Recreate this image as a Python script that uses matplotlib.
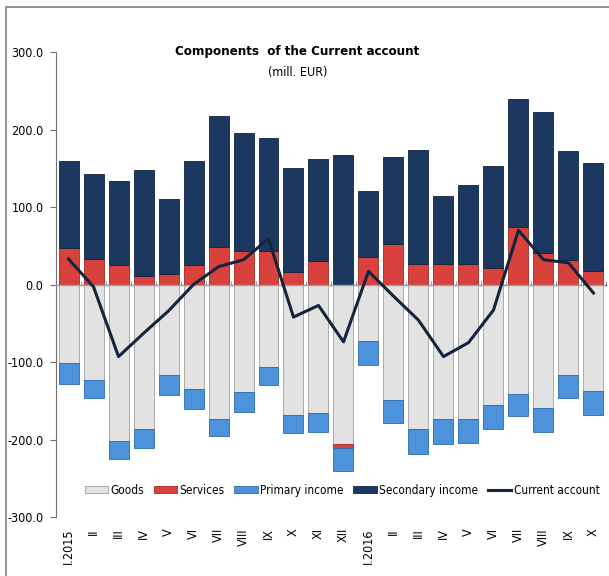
import numpy as np
import matplotlib
matplotlib.use("Agg")
import matplotlib.pyplot as plt
from matplotlib.patches import Rectangle

plt.rcParams['font.family'] = ['DejaVu Sans']
plt.rcParams['font.stretch'] = 'condensed'

months = ["I.2015", "II", "III", "IV", "V", "VI", "VII", "VIII", "IX", "X", "XI", "XII",
          "I.2016", "II", "III", "IV", "V", "VI", "VII", "VIII", "IX", "X"]
goods = [-101, -123, -202, -187, -117, -135, -173, -139, -107, -168, -166, -206,
         -73, -149, -187, -174, -174, -156, -141, -159, -117, -137]
services = [47, 33, 25, 11, 13, 25, 49, 43, 43, 16, 30, -5,
            35, 52, 26, 26, 26, 21, 74, 41, 32, 17]
primary = [-27, -24, -23, -24, -26, -25, -23, -25, -23, -24, -24, -29,
           -31, -30, -32, -32, -30, -31, -29, -31, -29, -31]
secondary = [113, 110, 108, 137, 97, 134, 169, 152, 146, 134, 132, 167,
             86, 112, 148, 88, 103, 132, 166, 182, 140, 140]
current = [33, -3, -93, -63, -34, 0, 23, 32, 59, -42, -27, -74,
           17, -15, -46, -93, -75, -33, 70, 32, 28, -11]

series = [("Goods", goods, "#e2e2e2", "#a0a0a0"),
          ("Services", services, "#d8413c", "#9c2a27"),
          ("Primary income", primary, "#4d93dc", "#2e6aa8"),
          ("Secondary income", secondary, "#1b3960", "#0f2340")]

fig = plt.figure(figsize=(6.09, 5.76), dpi=100)
ax = fig.add_axes([0.092, 0.1024, 0.903, 0.8073])

x = np.arange(len(months))
pos_base = np.zeros(len(months))
neg_base = np.zeros(len(months))
handles = []
for name, vals, col, edge in series:
    v = np.array(vals, dtype=float)
    base = np.where(v >= 0, pos_base, neg_base)
    h = ax.bar(x, v, bottom=base, width=0.8, color=col, edgecolor=edge,
               linewidth=0.6, label=name, zorder=2)
    handles.append(h)
    pos_base = pos_base + np.where(v >= 0, v, 0)
    neg_base = neg_base + np.where(v < 0, v, 0)

line, = ax.plot(x, current, color="#13253d", linewidth=2.2, label="Current account", zorder=4)
handles.append(line)

ax.set_xlim(-0.5, len(months) - 0.5)
ax.set_ylim(-300, 300)
ax.set_yticks(np.arange(-300, 301, 100))
ax.set_yticklabels([f"{v:.1f}" for v in np.arange(-300, 301, 100)], fontsize=9)
ax.tick_params(axis='y', direction='out', length=4, color="#707070", pad=5)

ax.set_xticks(x)
ax.set_xticklabels(months, rotation=90, fontsize=9)
ax.tick_params(axis='x', length=0, pad=8)

for s in ["top", "right", "bottom"]:
    ax.spines[s].set_visible(False)
ax.spines["left"].set_color("#707070")

# zero line with category separators
ax.axhline(0, color="#a0a0a0", linewidth=1, zorder=3)
sec = ax.secondary_xaxis(0.5)
sec.set_xticks(np.arange(-0.5, len(months), 1.0))
sec.set_xticklabels([])
sec.tick_params(direction='out', length=3, color="#a0a0a0")
sec.spines["bottom"].set_visible(False)

fig.text(0.488, 0.905, "Components  of the Current account", ha="center",
         fontsize=9.5, fontweight="bold")
fig.text(0.488, 0.868, "(mill. EUR)", ha="center", fontsize=9)

ax.legend(handles=handles, loc="center", bbox_to_anchor=(0.52, 0.058), ncol=5,
          frameon=False, fontsize=8.5, handlelength=2.0, handleheight=0.6,
          handletextpad=0.2, columnspacing=0.8)

fig.patches.append(Rectangle((0.010, -0.1), 1.5, 0.988 + 0.1, transform=fig.transFigure,
                             fill=False, edgecolor="#808080", linewidth=1.2))

fig.savefig("out.png", dpi=100)
